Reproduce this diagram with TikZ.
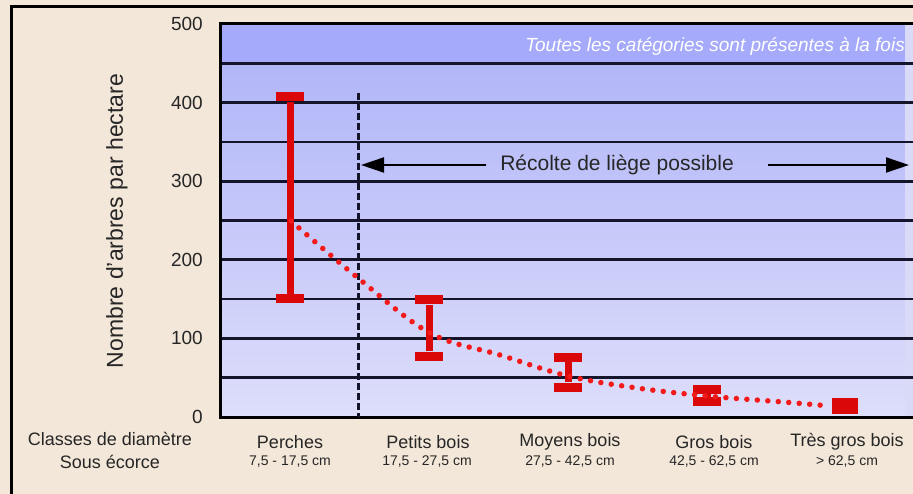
\documentclass[tikz,border=0pt]{standalone}
\usepackage{fontspec}
\setmainfont{Liberation Sans}
\usetikzlibrary{arrows.meta}
\definecolor{parchment}{HTML}{F3E7D9}
\definecolor{bandtop}{HTML}{A6AAFB}
\definecolor{plotmid}{HTML}{B2B6F8}
\definecolor{plotlow}{HTML}{DDDEFA}
\definecolor{edgestrip}{HTML}{D8DAF8}
\definecolor{barred}{HTML}{DA0808}
\definecolor{trendred}{HTML}{F21A1A}
\definecolor{gridnavy}{HTML}{14142A}

\begin{document}
\begin{tikzpicture}[x=1pt,y=-1pt,
	every node/.style={inner sep=0pt},
	gridline/.style={gridnavy, line width=2.7pt},
	frameline/.style={black, line width=3pt},
	limitline/.style={gridnavy, line width=3pt, dash pattern=on 7pt off 3pt},
	arrowline/.style={black, line width=2pt, -{Triangle[length=23pt,width=15pt]}},
	barcap/.style={rectangle, fill=barred, minimum width=28pt, minimum height=9pt},
	bar/.style={barred, line width=7pt},
	trend/.style={trendred, line width=5.5pt, line cap=round, dash pattern=on 0pt off 10.5pt},
	ticklabel/.style={anchor=east, font=\fontsize{19}{19}\selectfont, text=black!85},
	catname/.style={font=\fontsize{18}{18}\selectfont, text=black!85},
	catrange/.style={font=\fontsize{14}{14}\selectfont, text=black!85}]
	\useasboundingbox (0,0) rectangle (913,494);
	\fill[parchment] (0,0) rectangle (913,494);
	% plot area
	\fill[bandtop] (220,24) rectangle (905,63);
	\shade[top color=plotmid, bottom color=plotlow] (220,63) rectangle (905,417);
	\fill[edgestrip] (905,24) rectangle (913,417);
	\foreach \v in {50,100,...,450}
		\draw[gridline] (220,{417-0.786*\v}) -- (913,{417-0.786*\v});
	\draw[frameline] (913,24) -- (220,24) -- (220,417) -- (913,417);
	\draw[frameline] (913,6.5) -- (11,6.5) -- (11,494);
	% axis labels
	\foreach \v in {0,100,...,500}
		\node[ticklabel] (tick\v) at (203,{417-0.786*\v}) {\v};
	\node[rotate=90, font=\fontsize{23}{23}\selectfont, text=black!85] (ylab) at (117,221) {Nombre d'arbres par hectare};
	\node[catname] (classes) at (110,439) {Classes de diamètre};
	\node[catname] (ecorce) at (110,462) {Sous écorce};
	\node[anchor=east, font=\fontsize{19}{19}\selectfont\itshape, text=white] (toutes) at (905,46) {Toutes les catégories sont présentes à la fois};
	% harvest limit
	\coordinate (limitT) at (358,93);
	\coordinate (limitB) at (358,417);
	\draw[limitline] (limitT) -- (limitB);
	\node[font=\fontsize{21}{21}\selectfont, text=black!85] (recolte) at (617,165) {Récolte de liège possible};
	\coordinate (harvL) at (361,165);
	\coordinate (harvR) at (909,165);
	\draw[arrowline] ([xshift=-14pt]recolte.west) -- (harvL);
	\draw[arrowline] ([xshift=34pt]recolte.east) -- (harvR);
	% error bars
	\node[barcap] (perT) at (290,97) {};
	\node[barcap] (perB) at (290,299) {};
	\draw[bar] (perT) -- (perB);
	\node[barcap] (petT) at (429,300) {};
	\node[barcap] (petB) at (429,356) {};
	\draw[bar] (petT) -- (petB);
	\node[barcap] (moyT) at (568,357) {};
	\node[barcap] (moyB) at (568,387) {};
	\draw[bar] (moyT) -- (moyB);
	\node[barcap] (groT) at (707,389) {};
	\node[barcap] (groB) at (707,401.5) {};
	\draw[bar] (groT) -- (groB);
	\node[barcap, minimum width=26pt, minimum height=16pt] (tgb) at (845,406) {};
	\draw[trend] plot[smooth, tension=0.6] coordinates {(291,221) (358,278) (430,333) (500,355) (568,376) (637,388) (707,396) (783,402) (830,406)};
	% categories
	\node[catname] (perches) at (290,442) {Perches};
	\node[catrange] (perchesR) at (290,462) {7,5 - 17,5 cm};
	\node[catname] (petits) at (428,442) {Petits bois};
	\node[catrange] (petitsR) at (427,462) {17,5 - 27,5 cm};
	\node[catname] (moyens) at (570,442) {Moyens bois};
	\node[catrange] (moyensR) at (570,462) {27,5 - 42,5 cm};
	\node[catname] (gros) at (714,442) {Gros bois};
	\node[catrange] (grosR) at (714,462) {42,5 - 62,5 cm};
	\node[catname] (tresgros) at (847,442) {Très gros bois};
	\node[catrange] (tresgrosR) at (847,462) {> 62,5 cm};
\end{tikzpicture}
\end{document}
